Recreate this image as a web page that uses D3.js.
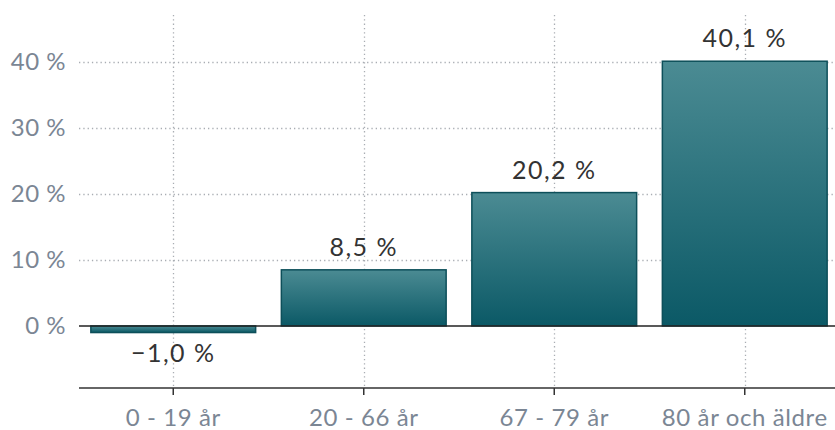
<!DOCTYPE html>
<html>
<head>
<meta charset="utf-8">
<script src="https://cdn.jsdelivr.net/npm/d3@7"></script>
<style>
    body { margin: 0; background: #fff; }
    text { font-family: Lato, "Open Sans", sans-serif; }
</style>
</head>
<body>
<div id="chart"></div>
<script>
var categories = ["0 - 19 år", "20 - 66 år", "67 - 79 år", "80 år och äldre"];
var values = [-1.0, 8.5, 20.2, 40.1];
var yTicks = [0, 10, 20, 30, 40];

var chartW = 835, chartH = 430;
var plotLeft = 79, plotRight = 840, plotTop = 15, plotBottom = 388;

var svg = d3.select("#chart").append("svg")
    .attr("width", chartW)
    .attr("height", chartH);

var defs = svg.append("defs");
var grad = defs.append("linearGradient")
    .attr("id", "barGrad")
    .attr("x1", 0).attr("y1", 0).attr("x2", 0).attr("y2", 1);
grad.append("stop").attr("offset", "0%").attr("stop-color", "#4b8b93");
grad.append("stop").attr("offset", "100%").attr("stop-color", "#0b5966");

var xscale = d3.scaleBand().domain(categories).range([plotLeft - 1, plotRight])
    .paddingInner(0.135).paddingOuter(0.0675);
var yscale = d3.scaleLinear().domain([-9.4, 47.1]).range([plotBottom, plotTop]);

var fmt = function (v) {
    return d3.format(".1f")(v).replace(".", ",").replace("-", "\u2212") + " %";
};

// horizontal grid
svg.append("g").selectAll("line").data(yTicks.filter(function (d) { return d != 0; }))
    .enter().append("line")
    .attr("x1", plotLeft).attr("x2", chartW)
    .attr("y1", function (d) { return Math.round(yscale(d)) + 0.5; })
    .attr("y2", function (d) { return Math.round(yscale(d)) + 0.5; })
    .attr("stroke", "#a9adb3")
    .attr("stroke-width", 1.3)
    .attr("stroke-dasharray", "1.3,3");

// vertical grid at category centers
svg.append("g").selectAll("line").data(categories)
    .enter().append("line")
    .attr("x1", function (d) { return Math.round(xscale(d) + xscale.bandwidth() / 2) + 0.5; })
    .attr("x2", function (d) { return Math.round(xscale(d) + xscale.bandwidth() / 2) + 0.5; })
    .attr("y1", plotTop).attr("y2", plotBottom)
    .attr("stroke", "#a9adb3")
    .attr("stroke-width", 1.3)
    .attr("stroke-dasharray", "1.3,3");

// y labels
svg.append("g").selectAll("text").data(yTicks)
    .enter().append("text")
    .attr("x", 66)
    .attr("y", function (d) { return yscale(d); })
    .attr("dy", "0.35em")
    .attr("text-anchor", "end")
    .attr("fill", "#7b8694")
    .style("font-size", "24px")
    .style("letter-spacing", "0.5px")
    .text(function (d) { return d + " %"; });

// bars
svg.append("g").selectAll("rect").data(values)
    .enter().append("rect")
    .attr("x", function (d, i) { return xscale(categories[i]); })
    .attr("y", function (d) { return yscale(Math.max(0, d)); })
    .attr("width", xscale.bandwidth())
    .attr("height", function (d) { return Math.abs(yscale(d) - yscale(0)); })
    .attr("fill", "url(#barGrad)")
    .attr("stroke", "#0d4f5a")
    .attr("stroke-width", 1.5);

// zero line
svg.append("line")
    .attr("x1", plotLeft).attr("x2", chartW)
    .attr("y1", yscale(0)).attr("y2", yscale(0))
    .attr("stroke", "#222")
    .attr("stroke-width", 1.5);

// value labels
svg.append("g").selectAll("text").data(values)
    .enter().append("text")
    .attr("x", function (d, i) { return xscale(categories[i]) + xscale.bandwidth() / 2; })
    .attr("y", function (d) { return d >= 0 ? yscale(d) - 14 : yscale(d) + 29; })
    .attr("text-anchor", "middle")
    .attr("fill", "#333")
    .style("font-size", "25px")
    .style("letter-spacing", "1.5px")
    .text(function (d) { return fmt(d); });

// bottom axis
var xAxis = d3.axisBottom(xscale).tickSize(7).tickSizeOuter(0);
var gx = svg.append("g")
    .attr("transform", "translate(0," + plotBottom + ")")
    .call(xAxis);
gx.select(".domain").attr("stroke", "#333").attr("stroke-width", 1.5)
    .attr("d", "M" + plotLeft + ",0H" + chartW);
gx.selectAll(".tick line").attr("stroke", "#333").attr("stroke-width", 1.5);
gx.selectAll(".tick text")
    .attr("fill", "#7b8694")
    .attr("y", 38)
    .attr("dy", null)
    .style("font-size", "24px")
    .style("letter-spacing", "0.6px")
    .style("font-family", "Lato, sans-serif");
</script>
</body>
</html>
